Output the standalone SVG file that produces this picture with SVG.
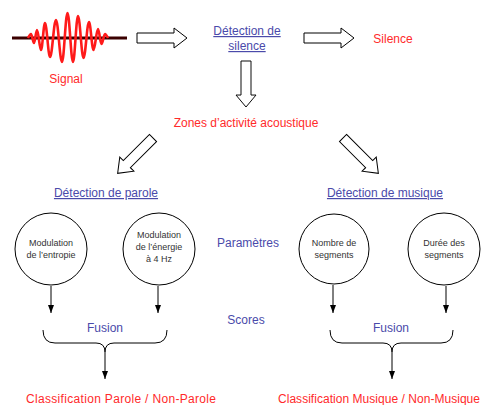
<svg xmlns="http://www.w3.org/2000/svg" width="481" height="405" viewBox="0 0 481 405">
<defs>
<style>
text{font-family:"Liberation Sans",Arial,sans-serif;}
.red{fill:#ff2a2a;font-size:12px;text-anchor:middle;}
.blue{fill:#4a4aaa;font-size:12px;text-anchor:middle;}
.ul{text-decoration:underline;}
.ct{fill:#333;font-size:9px;text-anchor:middle;}
.hollow{fill:#fff;stroke:#000;stroke-width:1;}
.circ{fill:#fff;stroke:#000;stroke-width:1;}
.ln{fill:none;stroke:#000;stroke-width:1;}
</style>
<marker id="ah" viewBox="0 0 8 8" refX="8" refY="4" markerWidth="8" markerHeight="8" markerUnits="userSpaceOnUse" orient="auto">
<path d="M0,1 L8,4 L0,7 Z" fill="#000"/>
</marker>
<polygon id="harrow" points="0,-5 37,-5 37,-10 50,0 37,10 37,5 0,5"/>
</defs>
<rect width="481" height="405" fill="#fff"/>

<g id="signal">
<line x1="12" y1="38" x2="127" y2="38" stroke="#3a0000" stroke-width="3"/>
<path d="M28,38 C29,36 30,34 31,34 C32.1,34 32.9,43 34,43 C35.1,43 35.9,30 37,30 C38.45,30 39.55,50 41,50 C42.45,50 43.55,23 45,23 C46.8,23 48.2,57 50,57 C52.2,57 53.8,20 56,20 C58.2,20 59.8,62 62,62 C64,62 65.5,13 67.5,13 C69.5,13 71,62 73,62 C74.8,62 76.2,16 78,16 C80,16 81.5,58 83.5,58 C85.5,58 87,22 89,22 C90.6,22 91.9,50 93.5,50 C95.1,50 96.4,29 98,29 C99.3,29 100.2,44 101.5,44 C102.8,44 103.7,34 105,34 C106,34 107,36 108,38" fill="none" stroke="#ff1a1a" stroke-width="2.6" stroke-linejoin="round"/>
<text class="red" x="66" y="83">Signal</text>
</g>

<g id="det-silence">
<text class="blue ul" x="247" y="35">Détection de</text>
<text class="blue ul" x="247" y="50">silence</text>
</g>

<g id="silence">
<text class="red" x="393" y="43">Silence</text>
</g>

<g id="zones">
<text class="red" x="246" y="127">Zones d’activité acoustique</text>
</g>

<g id="det-parole">
<text class="blue ul" x="106" y="197">Détection de parole</text>
</g>

<g id="det-musique">
<text class="blue ul" x="385" y="197">Détection de musique</text>
</g>

<g id="parametres">
<text class="blue" x="248" y="247">Paramètres</text>
</g>

<g id="scores">
<text class="blue" x="246" y="324">Scores</text>
</g>

<g id="c-entropie">
<circle class="circ" cx="51" cy="249" r="36"/>
<text class="ct" x="51" y="246">Modulation</text>
<text class="ct" x="51" y="258">de l’entropie</text>
</g>

<g id="c-energie">
<circle class="circ" cx="159" cy="249" r="36"/>
<text class="ct" x="159" y="238">Modulation</text>
<text class="ct" x="159" y="250">de l’énergie</text>
<text class="ct" x="159" y="262">à 4 Hz</text>
</g>

<g id="c-nombre">
<circle class="circ" cx="334" cy="249" r="35"/>
<text class="ct" x="334" y="246">Nombre de</text>
<text class="ct" x="334" y="258">segments</text>
</g>

<g id="c-duree">
<circle class="circ" cx="444" cy="249" r="36"/>
<text class="ct" x="444" y="246">Durée des</text>
<text class="ct" x="444" y="258">segments</text>
</g>

<g id="fusion-parole">
<text class="blue" x="105" y="332">Fusion</text>
</g>

<g id="fusion-musique">
<text class="blue" x="391" y="332">Fusion</text>
</g>

<g id="class-parole">
<text class="red" x="121" y="403" textLength="190" lengthAdjust="spacing">Classification Parole / Non-Parole</text>
</g>

<g id="class-musique">
<text class="red" x="379" y="403" textLength="202" lengthAdjust="spacing">Classification Musique / Non-Musique</text>
</g>

<g id="connectors">
<use href="#harrow" class="hollow" transform="translate(137,38)"/>
<use href="#harrow" class="hollow" transform="translate(304,38)"/>
<use href="#harrow" class="hollow" transform="translate(246,61) rotate(90) scale(0.92,1)"/>
<use href="#harrow" class="hollow" transform="translate(153,138) rotate(135)"/>
<use href="#harrow" class="hollow" transform="translate(343,138) rotate(45)"/>
<line class="ln" x1="51" y1="286" x2="51" y2="313" marker-end="url(#ah)"/>
<line class="ln" x1="158" y1="286" x2="158" y2="313" marker-end="url(#ah)"/>
<line class="ln" x1="333" y1="285" x2="333" y2="313" marker-end="url(#ah)"/>
<line class="ln" x1="446" y1="286" x2="446" y2="313" marker-end="url(#ah)"/>
<path class="ln" d="M43,330 Q43,343 55,343 L96,343 Q105,343 105,352 Q105,343 114,343 L155,343 Q167,343 167,330"/>
<line class="ln" x1="105" y1="352" x2="105" y2="379" marker-end="url(#ah)"/>
<path class="ln" d="M330,330 Q330,343 342,343 L383,343 Q392,343 392,352 Q392,343 401,343 L441,343 Q453,343 453,330"/>
<line class="ln" x1="392" y1="352" x2="392" y2="379" marker-end="url(#ah)"/>
</g>
</svg>
